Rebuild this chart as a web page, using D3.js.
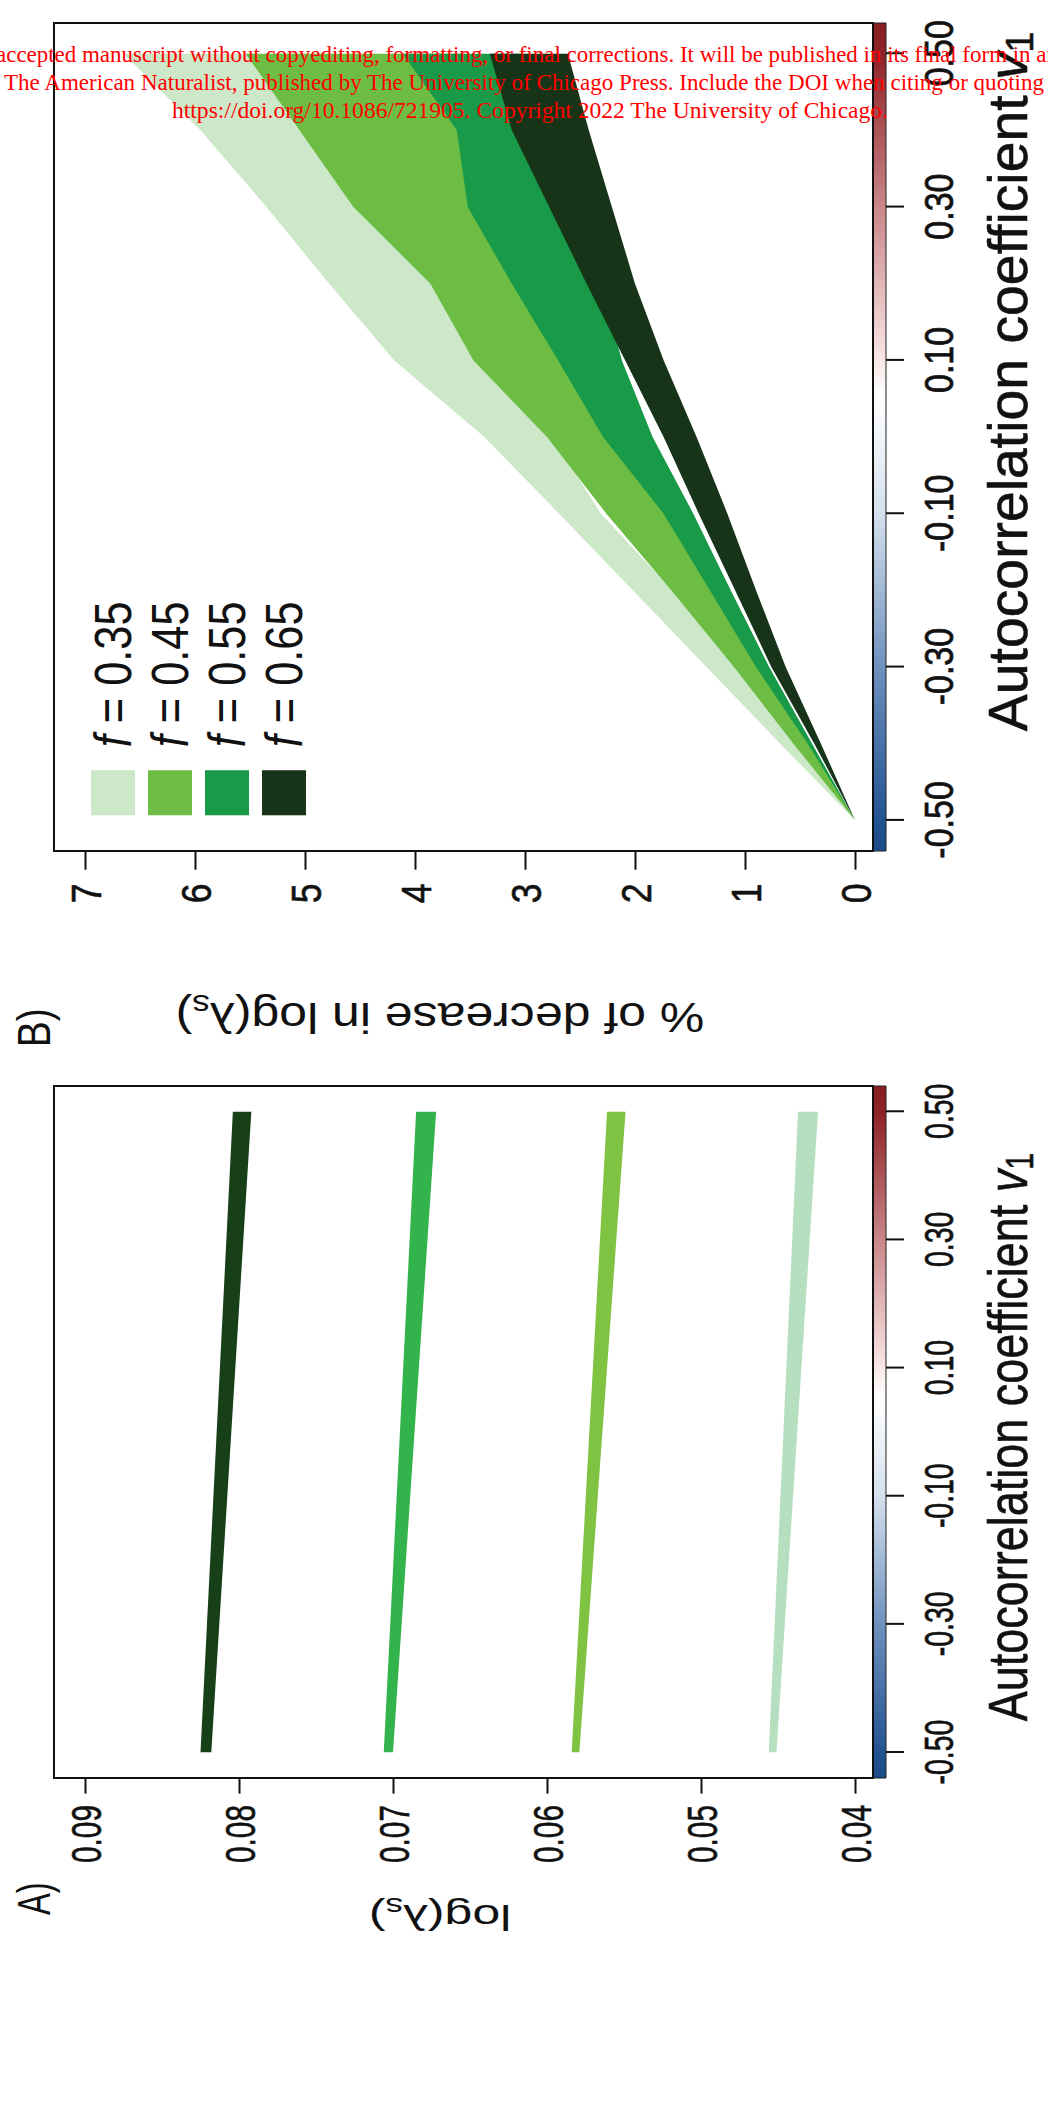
<!DOCTYPE html>
<html><head><meta charset="utf-8">
<script src="https://cdn.jsdelivr.net/npm/d3@7"></script>
<style>body{margin:0;background:#fff}</style>
</head><body>
<svg id="fig" width="1048" height="2112" xmlns="http://www.w3.org/2000/svg"></svg>
<script>
// ---------------- data ----------------
const v1Ticks = [-0.5, -0.3, -0.1, 0.1, 0.3, 0.5];
const v1TickLabels = ["-0.50", "-0.30", "-0.10", "0.10", "0.30", "0.50"];
const fValues = ["0.35", "0.45", "0.55", "0.65"];

// Panel A: log(lambda_s) bands (lower / upper) at v1 = -0.5 and 0.5
const v1A = [-0.5, 0.5];
const lamLow035 = [0.0451, 0.0424], lamUp035 = [0.0456, 0.0437];
const lamLow045 = [0.0579, 0.0549], lamUp045 = [0.0584, 0.0561];
const lamLow055 = [0.0700, 0.0672], lamUp055 = [0.0706, 0.0685];
const lamLow065 = [0.0818, 0.0792], lamUp065 = [0.0825, 0.0804];
const yTicksA = [0.04, 0.05, 0.06, 0.07, 0.08, 0.09];
const yTickLabelsA = ["0.04", "0.05", "0.06", "0.07", "0.08", "0.09"];

// Panel B: % of decrease in log(lambda_s) bands
const v1B = [-0.5, -0.4, -0.3, -0.2, -0.1, 0.0, 0.1, 0.2, 0.3, 0.4, 0.5];
const decUp035 = [0, 0.68, 1.35, 2.02, 2.69, 3.37, 4.19, 4.78, 5.35, 5.95, 6.65];
const decLow035 = [0, 0.55, 1.09, 1.66, 2.31, 2.75, 3.20, 3.60, 4.20, 4.60, 5.00];
const decUp045 = [0, 0.56, 1.10, 1.67, 2.26, 2.80, 3.47, 3.86, 4.56, 5.05, 5.54];
const decLow045 = [0, 0.41, 0.84, 1.22, 1.60, 2.06, 2.40, 2.70, 3.05, 3.25, 3.55];
const decUp055 = [0, 0.43, 0.90, 1.32, 1.74, 2.29, 2.70, 3.12, 3.52, 3.62, 4.11];
const decLow055 = [0, 0.39, 0.78, 1.13, 1.47, 1.84, 2.12, 2.30, 2.60, 2.90, 3.00];
const decUp065 = [0, 0.37, 0.76, 1.09, 1.42, 1.74, 2.09, 2.44, 2.78, 3.12, 3.32];
const decLow065 = [0, 0.31, 0.63, 0.90, 1.16, 1.44, 1.74, 2.00, 2.21, 2.42, 2.61];
const yTicksB = [0, 1, 2, 3, 4, 5, 6, 7];
const yTickLabelsB = ["0", "1", "2", "3", "4", "5", "6", "7"];

const colorsA = ["#b6dfc0", "#80c342", "#33b34b", "#173f18"];
const colorsB = ["#cde8c8", "#6dbd45", "#189a48", "#173318"];

const watermark = [
  "accepted manuscript without copyediting, formatting, or final corrections. It will be published in its final form in an",
  "The American Naturalist, published by The University of Chicago Press. Include the DOI when citing or quoting",
  "https://doi.org/10.1086/721905. Copyright 2022 The University of Chicago."
];

// ---------------- drawing ----------------
const FONT = "'Liberation Sans', Arial, Helvetica, sans-serif";
const svg = d3.select("#fig");
svg.append("rect").attr("width", 1048).attr("height", 2112).attr("fill", "#fff");

// whole figure is drawn in its original landscape orientation, then turned
const root = svg.append("g").attr("transform", "translate(0,2112) rotate(-90)");

const defs = svg.append("defs");
const grad = defs.append("linearGradient").attr("id", "cbar").attr("x1", 0).attr("x2", 1).attr("y1", 0).attr("y2", 0);
[[0, "#1b4b88"], [0.04, "#235493"], [0.22, "#6d90bd"], [0.41, "#d5e1ee"], [0.55, "#ffffff"],
 [0.6, "#f7e2e2"], [0.78, "#c98587"], [0.96, "#8f2328"], [1, "#8a1d22"]]
  .forEach(([o, c]) => grad.append("stop").attr("offset", o).attr("stop-color", c));

const WN = 974; // natural panel width before compression
const BOX_T = 54, BOX_B = 873;

function drawPanel(p) {
  const g = root.append("g").attr("transform", `translate(${p.x0},0) scale(${p.s},1)`);
  const x = d3.scaleLinear().domain([-0.54, 0.54]).range([0, WN]);
  const y = d3.scaleLinear().domain(p.yDomain).range([855, 85]);

  // bands
  p.bands.forEach(b => {
    const area = d3.area()
      .x(i => x(p.v1[i]))
      .y0(i => y(b.low[i]))
      .y1(i => y(b.up[i]));
    g.append("path").attr("d", area(d3.range(p.v1.length))).attr("fill", b.color).attr("stroke", "none");
  });

  // colour strip along the x axis
  g.append("rect").attr("x", 0).attr("y", BOX_B).attr("width", WN).attr("height", 13)
    .attr("fill", "url(#cbar)").attr("stroke", "#222").attr("stroke-width", 1).attr("vector-effect", "non-scaling-stroke");

  // box
  g.append("rect").attr("x", 0).attr("y", BOX_T).attr("width", WN).attr("height", BOX_B - BOX_T)
    .attr("fill", "none").attr("stroke", "#111").attr("stroke-width", 2).attr("vector-effect", "non-scaling-stroke");

  // x axis
  const xa = g.append("g").attr("transform", `translate(0,${BOX_B + 13})`)
    .call(d3.axisBottom(x).tickValues(v1Ticks).tickSize(18).tickFormat((d, i) => v1TickLabels[i]));
  xa.select(".domain").remove();
  xa.selectAll("line").attr("stroke", "#111").attr("stroke-width", 2).attr("vector-effect", "non-scaling-stroke");
  xa.selectAll("text").attr("y", 0).attr("dy", null).attr("transform", "translate(0,67)")
    .attr("font-family", FONT).attr("font-size", 40).attr("fill", "#111")
    .attr("stroke", "#111").attr("stroke-width", 0.7);

  // x title
  const xt = g.append("text").attr("x", p.xTitleX).attr("y", 1027).attr("text-anchor", "start")
    .attr("font-family", FONT).attr("font-size", 56).attr("fill", "#111")
    .attr("stroke", "#111").attr("stroke-width", 0.6)
    .attr("textLength", p.xTitleLen).attr("lengthAdjust", "spacingAndGlyphs");
  xt.append("tspan").text("Autocorrelation coefficient ");
  xt.append("tspan").attr("font-style", "italic").text("v");
  xt.append("tspan").attr("font-size", 38).attr("dy", 6).text("1");

  // y axis
  const ya = g.append("g")
    .call(d3.axisLeft(y).tickValues(p.yTicks).tickSize(22).tickFormat((d, i) => p.yTickLabels[i]));
  ya.select(".domain").remove();
  ya.selectAll("line").attr("stroke", "#111").attr("stroke-width", 2).attr("vector-effect", "non-scaling-stroke");
  ya.selectAll("text").attr("x", -38).attr("dy", "0.36em")
    .attr("font-family", FONT).attr("font-size", 42).attr("fill", "#111")
    .attr("stroke", "#111").attr("stroke-width", 0.6);

  // y title (rotated)
  const yt = g.append("text").attr("transform", `translate(${p.yTitleX},440) rotate(-90)`)
    .attr("text-anchor", "middle").attr("font-family", FONT).attr("font-size", 50).attr("fill", "#111");
  yt.append("tspan").text(p.yTitle);
  yt.append("tspan").attr("font-size", 35).attr("dy", 10).text("s");
  yt.append("tspan").attr("dy", -10).text(")");

  // panel letter
  g.append("text").attr("x", p.labelX).attr("y", 50).attr("font-family", FONT).attr("font-size", 46)
    .attr("fill", "#111").text(p.label);

  return {g, x, y};
}

// Panel A
drawPanel({
  x0: 334, s: 692 / WN, yDomain: [0.04, 0.09], v1: v1A,
  yTicks: yTicksA, yTickLabels: yTickLabelsA,
  bands: [
    {low: lamLow035, up: lamUp035, color: colorsA[0]},
    {low: lamLow045, up: lamUp045, color: colorsA[1]},
    {low: lamLow055, up: lamUp055, color: colorsA[2]},
    {low: lamLow065, up: lamUp065, color: colorsA[3]}
  ],
  xTitleX: 80, xTitleLen: 800, yTitleX: -179, yTitle: "log(λ", label: "A)", labelX: -193
});

// Panel B
const pb = drawPanel({
  x0: 1261, s: 828 / WN, yDomain: [0, 7], v1: v1B,
  yTicks: yTicksB, yTickLabels: yTickLabelsB,
  bands: [
    {low: decLow035, up: decUp035, color: colorsB[0]},
    {low: decLow045, up: decUp045, color: colorsB[1]},
    {low: decLow055, up: decUp055, color: colorsB[2]},
    {low: decLow065, up: decUp065, color: colorsB[3]}
  ],
  xTitleX: 141, xTitleLen: 823, yTitleX: -179, yTitle: "% of decrease in log(λ", label: "B)", labelX: -231
});

// legend (panel B)
const leg = pb.g.append("g");
fValues.forEach((f, i) => {
  const yTop = 91 + i * 57;
  leg.append("rect").attr("x", 42).attr("y", yTop).attr("width", 53).attr("height", 44).attr("fill", colorsB[i]);
  const t = leg.append("text").attr("x", 122).attr("y", yTop + 40).attr("font-family", FONT)
    .attr("font-size", 51).attr("fill", "#111");
  t.append("tspan").attr("font-style", "italic").text("f");
  t.append("tspan").text(" = " + f);
});

// watermark overlay (screen orientation)
const wm = svg.append("g").attr("font-family", "'Liberation Serif', 'Times New Roman', serif")
  .attr("font-size", 23.5).attr("fill", "#ff0000");
wm.append("text").attr("x", -4).attr("y", 62).attr("textLength", 1062).attr("lengthAdjust", "spacingAndGlyphs").text(watermark[0]);
wm.append("text").attr("x", 4).attr("y", 90).attr("textLength", 1040).attr("lengthAdjust", "spacingAndGlyphs").text(watermark[1]);
wm.append("text").attr("x", 172).attr("y", 118).attr("textLength", 716).attr("lengthAdjust", "spacingAndGlyphs").text(watermark[2]);
</script>
</body></html>
